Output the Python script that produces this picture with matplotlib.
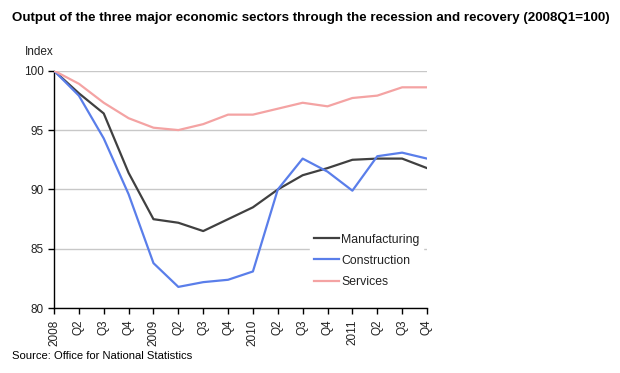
import matplotlib
matplotlib.use("Agg")
import matplotlib.pyplot as plt

plt.rcParams['font.family'] = ['Liberation Sans', 'DejaVu Sans']

quarters = ["2008", "Q2", "Q3", "Q4", "2009", "Q2", "Q3", "Q4",
            "2010", "Q2", "Q3", "Q4", "2011", "Q2", "Q3", "Q4"]
manufacturing = [100, 98.1, 96.4, 91.4, 87.5, 87.2, 86.5, 87.5,
                 88.5, 90.0, 91.2, 91.8, 92.5, 92.6, 92.6, 91.8]
construction = [100, 97.9, 94.3, 89.6, 83.8, 81.8, 82.2, 82.4,
                83.1, 90.0, 92.6, 91.5, 89.9, 92.8, 93.1, 92.6]
services = [100, 98.9, 97.3, 96.0, 95.2, 95.0, 95.5, 96.3,
            96.3, 96.8, 97.3, 97.0, 97.7, 97.9, 98.6, 98.6]

fig = plt.figure(figsize=(6.2, 3.73), dpi=100)
ax = fig.add_axes([0.0871, 0.1735, 0.6016, 0.637])

x = list(range(len(quarters)))
ax.plot(x, manufacturing, color='#404040', lw=1.6, label='Manufacturing', zorder=3)
ax.plot(x, construction, color='#5A7EEA', lw=1.6, label='Construction', zorder=3)
ax.plot(x, services, color='#F4A3A3', lw=1.6, label='Services', zorder=3)

ax.set_xlim(0, len(quarters) - 1)
ax.set_ylim(80, 100)
ax.set_yticks([80, 85, 90, 95, 100])
ax.set_xticks(x)
ax.set_xticklabels(quarters, rotation=90, fontsize=8.5, color='#222222')
ax.tick_params(axis='y', labelsize=8.5, labelcolor='#222222', length=4, width=1, direction='out')
ax.tick_params(axis='x', length=4, width=1, direction='out', pad=4)
ax.grid(axis='y', color='#C8C8C8', lw=1)
ax.set_axisbelow(True)
for s in ['top', 'right']:
    ax.spines[s].set_visible(False)
for s in ['left', 'bottom']:
    ax.spines[s].set_color('black')
    ax.spines[s].set_linewidth(1)

leg = ax.legend(loc='lower right', bbox_to_anchor=(1.0, 0.055), frameon=True,
                fontsize=8.8, handlelength=2.1, handletextpad=0.15,
                labelspacing=0.75, borderpad=0.3, borderaxespad=0.3)
leg.get_frame().set_edgecolor('white')
leg.get_frame().set_facecolor('white')
leg.get_frame().set_alpha(1)
for t in leg.get_texts():
    t.set_color('#222222')

fig.text(0.019, 0.953, "Output of the three major economic sectors through the recession and recovery (2008Q1=100)",
         fontsize=9.6, fontweight='bold', ha='left', va='center', color='black')
fig.text(0.04, 0.86, "Index", fontsize=8.5, ha='left', va='center', color='#222222')
fig.text(0.019, 0.046, "Source: Office for National Statistics", fontsize=8.1, ha='left', va='center', color='black')

fig.savefig('out.png', dpi=100)
